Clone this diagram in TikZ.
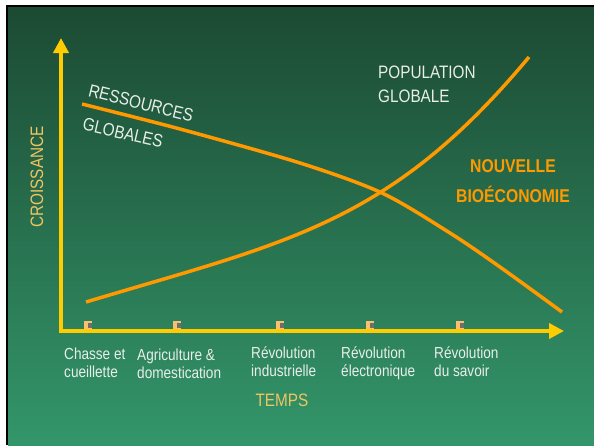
\documentclass[tikz,border=0pt]{standalone}
\usepackage{fontspec}
\setmainfont{Liberation Sans}[FakeStretch=0.85]
\usetikzlibrary{arrows.meta}

\definecolor{fondhaut}{HTML}{1C4A33}
\definecolor{fondbas}{HTML}{33966A}
\definecolor{jaune}{HTML}{FFCC00}
\definecolor{orange}{HTML}{FF9900}
\definecolor{blanc}{HTML}{E8EEE8}
\definecolor{titre}{HTML}{F0C462}
\definecolor{repere}{HTML}{F8C070}
\definecolor{gris}{HTML}{6E6E6E}

\tikzset{
    axe/.style={line width=4.5pt, draw=jaune, line join=miter,
        {Triangle[length=15pt,width=15pt]}-{Triangle[length=15pt,width=15pt]}},
    courbe/.style={line width=3.5pt, draw=orange},
    etiquette/.style={text=blanc, font=\fontsize{16}{17.5}\selectfont,
        align=left, inner sep=0pt, anchor=north west},
    grand/.style={text=blanc, font=\fontsize{18}{24}\selectfont, inner sep=0pt},
    axetitre/.style={text=titre, font=\fontsize{18}{22}\selectfont, inner sep=0pt},
    bio/.style={text=orange, font=\bfseries\fontsize{18.5}{22}\selectfont, inner sep=0pt},
    repere/.style={fill=repere, minimum size=8pt, inner sep=0pt,
        path picture={\fill[gris] ([yshift=-1.5pt]path picture bounding box.north east)
            rectangle ++(-4.5pt,-5pt);}},
}

\begin{document}
\begin{tikzpicture}[x=1pt, y=-1pt]
    \useasboundingbox (0,0) rectangle (594,445);
    % cadre et fond en degrade
    \fill[white] (0,0) rectangle (594,445);
    \fill[black] (6,5) rectangle (594,445);
    \shade[top color=fondhaut, bottom color=fondbas] (8,7) rectangle (594,445);

    % axes
    \coordinate (origine) at (61,331);
    \coordinate (haut) at (61,38);
    \coordinate (droite) at (564,331);
    \draw[axe] (haut) -- (origine) -- (droite);

    % reperes sur l'axe du temps
    \node[repere] (r1) at (88,325) {};
    \node[repere] (r2) at (177,325) {};
    \node[repere] (r3) at (280,325) {};
    \node[repere] (r4) at (370,325) {};
    \node[repere] (r5) at (460,325) {};

    % les deux courbes
    \draw[courbe] plot[smooth] coordinates {(82,104) (180,129) (300,163) (382,193) (450,233) (500,267) (562,312)};
    \draw[courbe] (86,302) .. controls (286,242) and (389,225) .. (529,57);

    \node[grand, rotate=-14] (ressources) at (141,103) {RESSOURCES};
    \node[grand, rotate=-13] (globales) at (123,133) {GLOBALES};
    \node[grand, align=left, anchor=north west] (population) at (378,66) {POPULATION\\GLOBALE};
    \node[bio] (nouvelle) at (513,166) {NOUVELLE};
    \node[bio] (bioeco) at (513,194) {BIOÉCONOMIE};

    \node[axetitre, rotate=90] (croissance) at (37,177) {CROISSANCE};
    \node[axetitre] (temps) at (282,400) {TEMPS};

    \node[etiquette] (e1) at (64,348) {Chasse et\\cueillette};
    \node[etiquette] (e2) at (137,349) {Agriculture \&\\domestication};
    \node[etiquette] (e3) at (251,347) {Révolution\\industrielle};
    \node[etiquette] (e4) at (341,347) {Révolution\\électronique};
    \node[etiquette] (e5) at (434,347) {Révolution\\du savoir};
\end{tikzpicture}
\end{document}
